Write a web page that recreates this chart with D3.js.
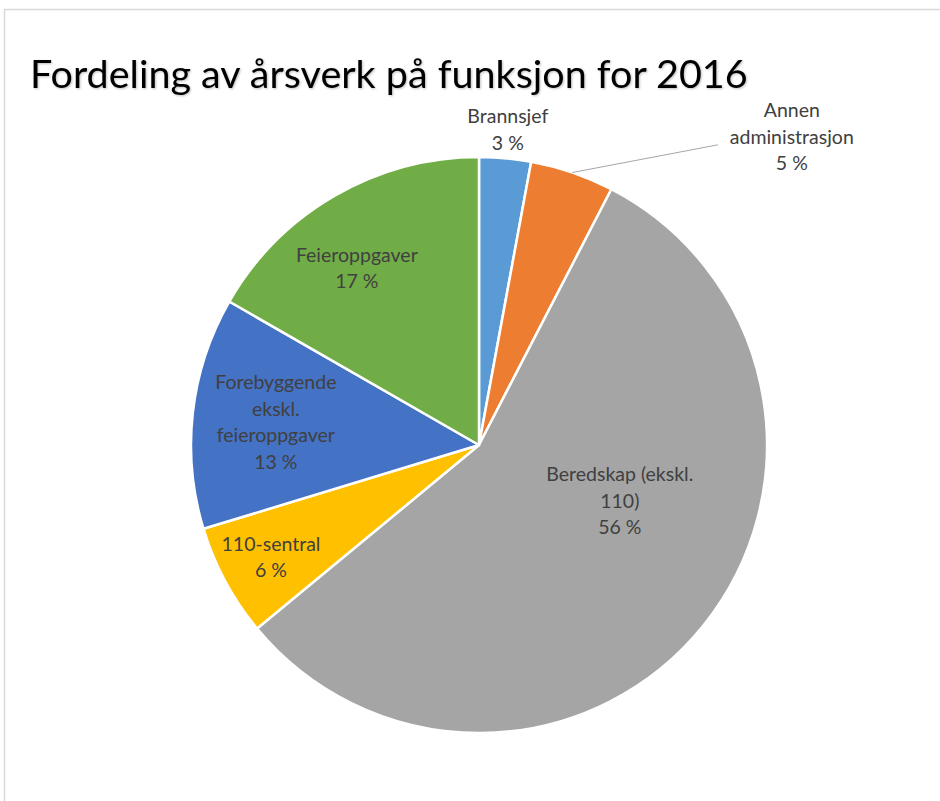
<!DOCTYPE html>
<html>
<head>
<meta charset="utf-8">
<script src="https://cdn.jsdelivr.net/npm/d3@7"></script>
<style>
  body { margin: 0; background: #fff; }
  svg { display: block; }
</style>
</head>
<body>
<svg id="chart"></svg>
<script>
var width = 940, height = 801;

// data
var categories = ["Brannsjef", "Annen administrasjon", "Beredskap (ekskl. 110)", "110-sentral", "Forebyggende ekskl. feieroppgaver", "Feieroppgaver"];
var shares = [2.9, 4.7, 56.4, 6.3, 13.0, 16.7];
var labelLines = [
    ["Brannsjef"],
    ["Annen", "administrasjon"],
    ["Beredskap (ekskl.", "110)"],
    ["110-sentral"],
    ["Forebyggende", "ekskl.", "feieroppgaver"],
    ["Feieroppgaver"]
];
var colors = ["#5B9BD5", "#ED7D31", "#A5A5A5", "#FFC000", "#4472C4", "#70AD47"];

// label placement (fraction of radius from centre, plus nudge)
var labelPlace = [
    { r: 1.1, dx: 0, dy: 0 },
    { r: 1.52, dx: 171, dy: 106, leader: true },
    { r: 0.53, dx: 22, dy: -40 },
    { r: 0.82, dx: 0, dy: 0 },
    { r: 0.71, dx: 0, dy: 0 },
    { r: 0.75, dx: -14, dy: 10 }
];

var cx = 479, cy = 445, radius = 288;
var lineH = 26.5;

const svg = d3.select("svg#chart")
    .attr("width", width)
    .attr("height", height);

// frame
svg.append("path")
    .attr("d", "M4.5," + height + "V9.5H" + width)
    .attr("fill", "none")
    .attr("stroke", "#d9d9d9")
    .attr("stroke-width", 1.5);

// title
const title = svg.append("text")
    .attr("x", 30)
    .attr("y", 88)
    .style("font-family", "Lato, 'Open Sans', sans-serif")
    .style("font-size", "38px")
    .style("fill", "#000")
    .style("filter", "drop-shadow(1px 1px 1px rgba(0,0,0,0.25))")
    .text("Fordeling av årsverk på funksjon for 2016");

// fit title width to the reference
var tw = title.node().getComputedTextLength();
title.style("font-size", (38 * 718 / tw) + "px");

const pie = d3.pie()
    .sort(null)
    .value(d => d);

const arc = d3.arc()
    .innerRadius(0)
    .outerRadius(radius);

const arcs = pie(shares);

const g = svg.append("g")
    .attr("transform", "translate(" + cx + "," + cy + ")");

g.selectAll(".slice")
    .data(arcs)
    .enter()
    .append("path")
        .attr("class", "slice")
        .attr("d", arc)
        .style("fill", (d, i) => colors[i])
        .style("stroke", "#fff")
        .style("stroke-width", 2.5)
        .style("stroke-linejoin", "round");

function polar(d, r) {
    var a = (d.startAngle + d.endAngle) / 2;
    return [Math.sin(a) * r, -Math.cos(a) * r];
}

function labelCenter(d, i) {
    var p = labelPlace[i];
    var c = polar(d, radius * p.r);
    return [c[0] + p.dx, c[1] + p.dy];
}

// leader line for the outside label
arcs.forEach((d, i) => {
    var p = labelPlace[i];
    if (!p.leader) return;
    var s = polar(d, radius);
    var e = labelCenter(d, i);
    g.append("path")
        .attr("d", "M" + s[0] + "," + s[1] + "L" + (e[0] - 74) + "," + (e[1] + 8))
        .attr("fill", "none")
        .attr("stroke", "#a6a6a6")
        .attr("stroke-width", 1);
});

// labels
const labels = g.selectAll(".label")
    .data(arcs)
    .enter()
    .append("text")
        .attr("class", "label")
        .attr("text-anchor", "middle")
        .style("font-family", "Lato, 'Open Sans', sans-serif")
        .style("font-size", "19.5px")
        .style("fill", "#404040");

labels.each(function(d, i) {
    var c = labelCenter(d, i);
    var lines = labelLines[i].concat([Math.round(shares[i]) + " %"]);
    var y0 = c[1] - (lines.length - 1) * lineH / 2 + 7;
    d3.select(this).selectAll("tspan")
        .data(lines)
        .enter()
        .append("tspan")
            .attr("x", c[0])
            .attr("y", (t, j) => y0 + j * lineH)
            .text(t => t);
});
</script>
</body>
</html>
